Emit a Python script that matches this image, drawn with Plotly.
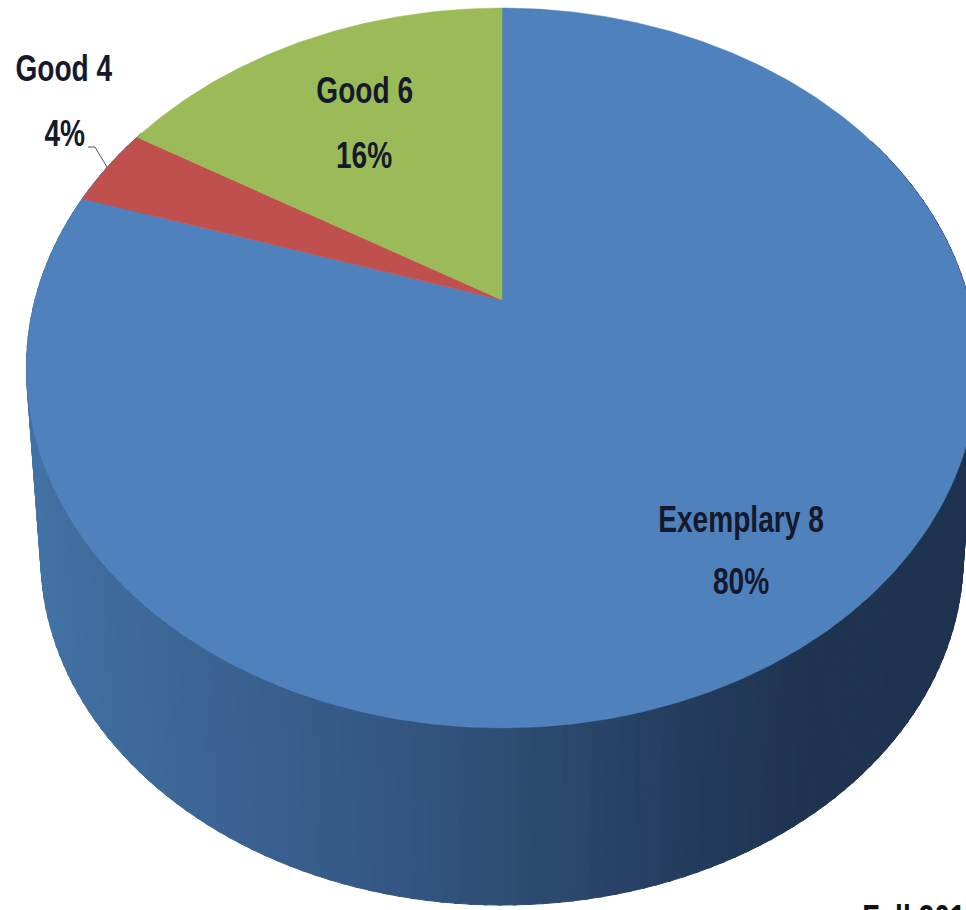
import numpy as np
import plotly.graph_objects as go

categories = ["Exemplary 8", "Good 4", "Good 6"]
shares = [80, 3.6, 16.4]
percent_labels = ["80%", "4%", "16%"]
slice_colors = ["#4f81bd", "#c0504d", "#9bbb59"]
corner_text = "Fall 201"

# rendering geometry of the tilted disc (pixels of the 966x910 canvas)
W, H = 966, 910
CX, CY = 502, 300
A, B, K = 347.1, 467.0, 0.1888
DEPTH, WALL_SCALE = 190.0, 0.97
WALL_STOPS = [(30, "#4474a8"), (120, "#3f6b9c"), (320, "#375d8b"), (520, "#2e4c72"),
              (700, "#233b5c"), (790, "#1f3552"), (970, "#1e3350")]


def project(theta_deg, scale=1.0, dy=0.0):
    t = np.radians(theta_deg)
    X, Y = np.sin(t), np.cos(t)
    d = 1 + K * Y
    return CX + scale * B * X / d, CY + dy - scale * A * Y / d


def hex2rgb(h):
    return np.array([int(h[i:i + 2], 16) for i in (1, 3, 5)], float)


def wall_color(x):
    xs = [s[0] for s in WALL_STOPS]
    cs = np.array([hex2rgb(s[1]) for s in WALL_STOPS])
    r = [np.interp(x, xs, cs[:, i]) for i in range(3)]
    return "rgb(%d,%d,%d)" % tuple(r)


fig = go.Figure()

# side wall: one narrow band per step round the near half of the rim
edges = np.arange(60, 302, 1.5)
for a0, a1 in zip(edges[:-1], edges[1:]):
    th = np.linspace(a0, a1 + 0.4, 3)
    xt, yt = project(th)
    xb, yb = project(th[::-1], WALL_SCALE, DEPTH)
    x = np.r_[xt, xb, xt[0]]
    y = np.r_[yt, yb, yt[0]]
    col = wall_color(float(np.mean(xb)))
    fig.add_trace(go.Scatter(x=x, y=y, mode="lines", fill="toself", fillcolor=col,
                             line=dict(color=col, width=1), hoverinfo="skip", showlegend=False))

# top face: slices sized by their share, clockwise from twelve o'clock
start = 0.0
for name, share, col in zip(categories, shares, slice_colors):
    end = start + share / sum(shares) * 360
    th = np.linspace(start, end, max(int(share * 6), 20))
    xs, ys = project(th)
    fig.add_trace(go.Scatter(x=np.r_[CX, xs, CX], y=np.r_[CY, ys, CY], mode="lines",
                             fill="toself", fillcolor=col, line=dict(color=col, width=0.5),
                             name=name, text=f"{name}: {share}%", hoverinfo="text",
                             showlegend=False))
    start = end

# leader line of the small slice
fig.add_trace(go.Scatter(x=[88, 95, 107], y=[147, 147, 167], mode="lines",
                         line=dict(color="#555555", width=1), hoverinfo="skip", showlegend=False))

FONT = dict(family="'Liberation Sans', sans-serif", size=37, color="#15192b")
label_pos = {"Exemplary 8": (741, 519, 581), "Good 4": (64, 68, 133), "Good 6": (364, 90, 155)}
for name, pct in zip(categories, percent_labels):
    x, y1, y2 = label_pos[name]
    fig.add_annotation(x=x, y=y1, text=f"<b>{name}</b>", showarrow=False, font=FONT)
    fig.add_annotation(x=x, y=y2, text=f"<b>{pct}</b>", showarrow=False, font=FONT)
fig.add_annotation(x=914, y=896, text=f"<b>{corner_text}</b>", showarrow=False, xanchor="center",
                   yanchor="top", font=dict(family="'Liberation Sans', sans-serif", size=37, color="#111111"))

fig.update_xaxes(range=[0, W], visible=False, fixedrange=True)
fig.update_yaxes(range=[H, 0], visible=False, fixedrange=True)
fig.update_layout(width=W, height=H, margin=dict(l=0, r=0, t=0, b=0),
                  paper_bgcolor="white", plot_bgcolor="white", showlegend=False)

post = """
document.body.style.margin='0';document.body.style.overflow='hidden';
var s=document.createElement('style');
s.textContent='.annotation-text{transform-box:fill-box;transform-origin:center;transform:scaleX(0.76);font-weight:normal}';
document.head.appendChild(s);
"""
fig.write_html("out.html", config=dict(displayModeBar=False), post_script=post)
